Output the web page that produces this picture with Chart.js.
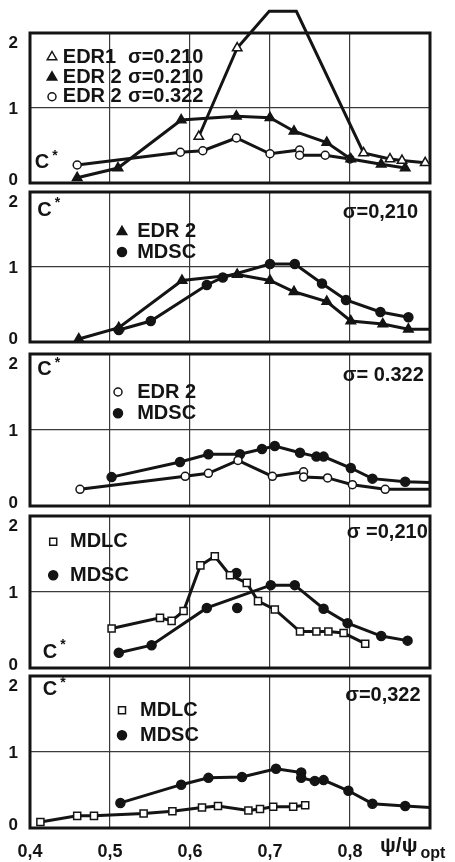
<!DOCTYPE html>
<html>
<head>
<meta charset="utf-8">
<script src="https://cdn.jsdelivr.net/npm/chart.js@4.4.1/dist/chart.umd.min.js"></script>
<style>
    html, body { margin: 0; padding: 0; background: #fff; }
    #wrap { position: relative; width: 455px; height: 862px; overflow: hidden; }
    #wrap canvas { position: absolute; left: 0; }
</style>
</head>
<body>
<div id="wrap"></div>
<script>
// Ejes
const xTickLabels = ['0,4', '0,5', '0,6', '0,7', '0,8', ''];
const yTickLabels = ['0', '1', '2'];

// Panel 1 : EDR1 / EDR2
const p1Edr1 = [[0.611, 0.62], [0.659, 1.80], [0.699, 2.29], [0.733, 2.29], [0.817, 0.40], [0.850, 0.32], [0.865, 0.30], [0.894, 0.27]];
const p1Edr2a = [[0.459, 0.07], [0.510, 0.20], [0.589, 0.84], [0.658, 0.89], [0.700, 0.87], [0.730, 0.69], [0.771, 0.54], [0.801, 0.32], [0.839, 0.25], [0.869, 0.20]];
const p1Edr2b = [[0.459, 0.24], [0.588, 0.41], [0.616, 0.43], [0.658, 0.60], [0.700, 0.39], [0.737, 0.44], [0.737, 0.37], [0.769, 0.37], [0.800, 0.32]];

// Panel 2 : sigma 0.210
const p2Edr2 = [[0.461, 0.04], [0.511, 0.19], [0.590, 0.82], [0.659, 0.90], [0.700, 0.82], [0.730, 0.67], [0.771, 0.54], [0.801, 0.28], [0.841, 0.24], [0.873, 0.17], [0.900, 0.17]];
const p2Mdsc = [[0.511, 0.16], [0.551, 0.28], [0.621, 0.76], [0.641, 0.86], [0.700, 1.04], [0.731, 1.04], [0.765, 0.78], [0.795, 0.56], [0.838, 0.40], [0.873, 0.33]];

// Panel 3 : sigma 0.322
const p3Edr2 = [[0.4625, 0.22], [0.594, 0.39], [0.623, 0.43], [0.660, 0.60], [0.703, 0.39], [0.742, 0.45], [0.742, 0.38], [0.772, 0.37], [0.803, 0.28], [0.844, 0.22], [0.900, 0.22]];
const p3Mdsc = [[0.502, 0.38], [0.5875, 0.58], [0.623, 0.68], [0.6625, 0.68], [0.690, 0.75], [0.706, 0.79], [0.7375, 0.70], [0.758, 0.65], [0.767, 0.65], [0.801, 0.50], [0.828, 0.36], [0.869, 0.32], [0.900, 0.31]];

// Panel 4 : MDLC / MDSC sigma 0.210
const p4Mdlc = [[0.502, 0.52], [0.5625, 0.66], [0.577, 0.62], [0.592, 0.75], [0.613, 1.35], [0.631, 1.47], [0.650, 1.22], [0.671, 1.12], [0.685, 0.88], [0.706, 0.77], [0.7375, 0.48], [0.758, 0.48], [0.773, 0.48], [0.792, 0.46], [0.819, 0.32]];
const p4Mdsc = [[0.511, 0.20], [0.552, 0.30], [0.621, 0.79], [0.701, 1.09], [0.731, 1.09], [0.767, 0.78], [0.797, 0.59], [0.839, 0.42], [0.872, 0.36]];
const p4MdscSolo = [[0.658, 1.25], [0.659, 0.79]];

// Panel 5 : MDLC / MDSC sigma 0.322
const p5Mdlc = [[0.413, 0.08], [0.459, 0.16], [0.480, 0.16], [0.542, 0.19], [0.578, 0.22], [0.615, 0.27], [0.635, 0.29], [0.673, 0.23], [0.6875, 0.25], [0.704, 0.28], [0.729, 0.28], [0.744, 0.30]];
const p5Mdsc = [[0.513, 0.33], [0.589, 0.57], [0.623, 0.66], [0.665, 0.67], [0.7075, 0.78], [0.739, 0.73], [0.739, 0.66], [0.756, 0.62], [0.767, 0.63], [0.798, 0.49], [0.828, 0.32], [0.869, 0.29], [0.900, 0.27]];

const FONT = '"Liberation Sans", Arial, sans-serif';
const INK = '#141414';
// desplazamiento vertical de las etiquetas 0 / 1 / 2 (el "2" va debajo del marco)
const Y_LABEL_SHIFT = [-3, 1, 10];

// Estilo de marcador por tipo
const MARKERS = {
    triOpen:  { pointStyle: 'triangle', fill: '#fff', radius: 5.5 },
    triFill:  { pointStyle: 'triangle', fill: INK,    radius: 5.5 },
    circOpen: { pointStyle: 'circle',   fill: '#fff', radius: 4 },
    circFill: { pointStyle: 'circle',   fill: INK,    radius: 4.5 },
    sqOpen:   { pointStyle: 'rect',     fill: '#fff', radius: 5 }
};

const makeSet = (points, kind, extra = {}) => {
    const m = MARKERS[kind];
    return Object.assign({
        data: points.map(([x, y]) => ({ x, y })),
        showLine: true,
        borderColor: INK,
        borderWidth: 3,
        pointStyle: m.pointStyle,
        pointBackgroundColor: m.fill,
        pointBorderColor: INK,
        pointBorderWidth: 1.5,
        // el punto en el borde derecho solo continua la linea
        pointRadius: (c) => (c.raw && c.raw.x >= 0.9 ? 0 : m.radius)
    }, extra);
};

const drawMarker = (ctx, kind, x, y) => {
    const m = MARKERS[kind];
    ctx.save();
    ctx.lineWidth = 1.5;
    ctx.strokeStyle = INK;
    ctx.fillStyle = m.fill;
    ctx.beginPath();
    if (m.pointStyle === 'triangle') {
        const r = m.radius;
        ctx.moveTo(x, y - r);
        ctx.lineTo(x + r * 0.866, y + r * 0.5);
        ctx.lineTo(x - r * 0.866, y + r * 0.5);
        ctx.closePath();
    } else if (m.pointStyle === 'circle') {
        ctx.arc(x, y, m.radius, 0, Math.PI * 2);
    } else {
        ctx.rect(x - 3.5, y - 3.5, 7, 7);
    }
    ctx.fill();
    ctx.stroke();
    ctx.restore();
};

// Marco del panel, etiquetas del eje y, leyendas y textos
const decor = {
    id: 'decor',
    beforeDatasetsDraw(chart) {
        const { ctx, chartArea: a } = chart;
        ctx.save();
        ctx.lineWidth = 3;
        ctx.strokeStyle = INK;
        ctx.strokeRect(a.left, a.top, a.right - a.left, a.bottom - a.top);
        ctx.restore();
    },
    afterDatasetsDraw(chart, args, opts) {
        const { ctx, chartArea: a } = chart;
        const sx = chart.scales.x, sy = chart.scales.y;

        ctx.save();
        ctx.font = `bold 17px ${FONT}`;
        ctx.fillStyle = INK;
        ctx.textAlign = 'right';
        ctx.textBaseline = 'middle';
        sy.ticks.forEach((t, i) => {
            ctx.fillText(yTickLabels[i], a.left - 12, sy.getPixelForValue(t.value) + Y_LABEL_SHIFT[i]);
        });
        ctx.restore();

        (opts.notes || []).forEach(n => {
            const px = sx.getPixelForValue(n.x);
            const py = sy.getPixelForValue(n.y);
            if (n.marker) {
                drawMarker(ctx, n.marker, px, py);
                return;
            }
            ctx.save();
            ctx.font = `bold ${n.size || 20}px ${FONT}`;
            ctx.fillStyle = INK;
            ctx.textBaseline = 'middle';
            ctx.textAlign = 'left';
            ctx.fillText(n.t, px, py);
            if (n.sup) {
                const w = ctx.measureText(n.t).width;
                ctx.font = `bold 14px ${FONT}`;
                ctx.fillText(n.sup, px + w + 3, py - 7);
            }
            ctx.restore();
        });
        if (opts.axisTitle) {
            ctx.save();
            ctx.fillStyle = INK;
            ctx.textBaseline = 'middle';
            ctx.font = `bold 21px ${FONT}`;
            ctx.fillText('ψ/ψ', a.right - 50, a.bottom + 18);
            const w = ctx.measureText('ψ/ψ').width;
            ctx.font = `bold 16px ${FONT}`;
            ctx.fillText('opt', a.right - 50 + w + 3, a.bottom + 26);
            ctx.restore();
        }
    }
};

const panels = [
    {
        top: 0, height: 207, padTop: 33, padBottom: 24,
        datasets: [
            makeSet(p1Edr1, 'triOpen', { clip: false }),
            makeSet(p1Edr2a, 'triFill'),
            makeSet(p1Edr2b, 'circOpen')
        ],
        notes: [
            { marker: 'triOpen', x: 0.4275, y: 1.68 }, { t: 'EDR1', x: 0.441, y: 1.68 }, { t: 'σ=0.210', x: 0.5225, y: 1.68 },
            { marker: 'triFill', x: 0.4275, y: 1.41 }, { t: 'EDR 2', x: 0.441, y: 1.41 }, { t: 'σ=0.210', x: 0.5225, y: 1.41 },
            { marker: 'circOpen', x: 0.4275, y: 1.15 }, { t: 'EDR 2', x: 0.441, y: 1.15 }, { t: 'σ=0.322', x: 0.5225, y: 1.15 },
            { t: 'C', sup: '*', x: 0.406, y: 0.27 }
        ]
    },
    {
        top: 168, height: 198, padTop: 24, padBottom: 24,
        datasets: [
            makeSet(p2Edr2, 'triFill'),
            makeSet(p2Mdsc, 'circFill')
        ],
        notes: [
            { t: 'C', sup: '*', x: 0.409, y: 1.76 },
            { t: 'σ=0,210', x: 0.791, y: 1.73 },
            { marker: 'triFill', x: 0.515, y: 1.47 }, { t: 'EDR 2', x: 0.534, y: 1.47 },
            { marker: 'circFill', x: 0.515, y: 1.20 }, { t: 'MDSC', x: 0.534, y: 1.20 }
        ]
    },
    {
        top: 330, height: 200, padTop: 24, padBottom: 24,
        datasets: [
            makeSet(p3Edr2, 'circOpen'),
            makeSet(p3Mdsc, 'circFill')
        ],
        notes: [
            { t: 'C', sup: '*', x: 0.409, y: 1.79 },
            { t: 'σ= 0.322', x: 0.791, y: 1.72 },
            { marker: 'circOpen', x: 0.51, y: 1.50 }, { t: 'EDR 2', x: 0.534, y: 1.50 },
            { marker: 'circFill', x: 0.51, y: 1.22 }, { t: 'MDSC', x: 0.534, y: 1.22 }
        ]
    },
    {
        top: 492, height: 200, padTop: 24, padBottom: 24,
        datasets: [
            makeSet(p4Mdlc, 'sqOpen'),
            makeSet(p4Mdsc, 'circFill'),
            makeSet(p4MdscSolo, 'circFill', { showLine: false })
        ],
        notes: [
            { t: 'σ =0,210', x: 0.796, y: 1.78 },
            { marker: 'sqOpen', x: 0.429, y: 1.66 }, { t: 'MDLC', x: 0.45, y: 1.66 },
            { marker: 'circFill', x: 0.429, y: 1.22 }, { t: 'MDSC', x: 0.45, y: 1.22 },
            { t: 'C', sup: '*', x: 0.416, y: 0.21 }
        ]
    },
    {
        top: 652, height: 210, padTop: 24, padBottom: 0, showX: true,
        datasets: [
            makeSet(p5Mdlc, 'sqOpen'),
            makeSet(p5Mdsc, 'circFill')
        ],
        notes: [
            { t: 'C', sup: '*', x: 0.416, y: 1.82 },
            { t: 'σ=0,322', x: 0.794, y: 1.75 },
            { marker: 'sqOpen', x: 0.515, y: 1.55 }, { t: 'MDLC', x: 0.5375, y: 1.55 },
            { marker: 'circFill', x: 0.515, y: 1.22 }, { t: 'MDSC', x: 0.5375, y: 1.22 }
        ]
    }
];

const wrap = document.getElementById('wrap');

panels.forEach((p) => {
    const canvas = document.createElement('canvas');
    canvas.width = 455;
    canvas.height = p.height;
    canvas.style.top = p.top + 'px';
    wrap.appendChild(canvas);

    new Chart(canvas, {
        type: 'scatter',
        data: { datasets: p.datasets },
        options: {
            responsive: false,
            animation: false,
            layout: { padding: { top: p.padTop, bottom: p.padBottom, left: 0, right: 25 } },
            plugins: {
                legend: { display: false },
                tooltip: { enabled: false },
                decor: { notes: p.notes, axisTitle: !!p.showX }
            },
            scales: {
                x: {
                    type: 'linear',
                    min: 0.4,
                    max: 0.9,
                    afterFit: (s) => { s.height = p.showX ? 34 : 0; },
                    border: { display: false },
                    grid: { color: '#3a3a3a', lineWidth: 1.2, drawTicks: false },
                    ticks: {
                        display: !!p.showX,
                        stepSize: 0.1,
                        padding: 13,
                        color: INK,
                        font: { family: FONT, size: 18, weight: 'bold' },
                        callback: (v, i) => xTickLabels[i]
                    }
                },
                y: {
                    min: 0,
                    max: 2,
                    afterFit: (s) => { s.width = 30; },
                    border: { display: false },
                    grid: { color: '#3a3a3a', lineWidth: 1.2, drawTicks: false },
                    ticks: { display: false, stepSize: 1 }
                }
            }
        },
        plugins: [decor]
    });
});
</script>
</body>
</html>
